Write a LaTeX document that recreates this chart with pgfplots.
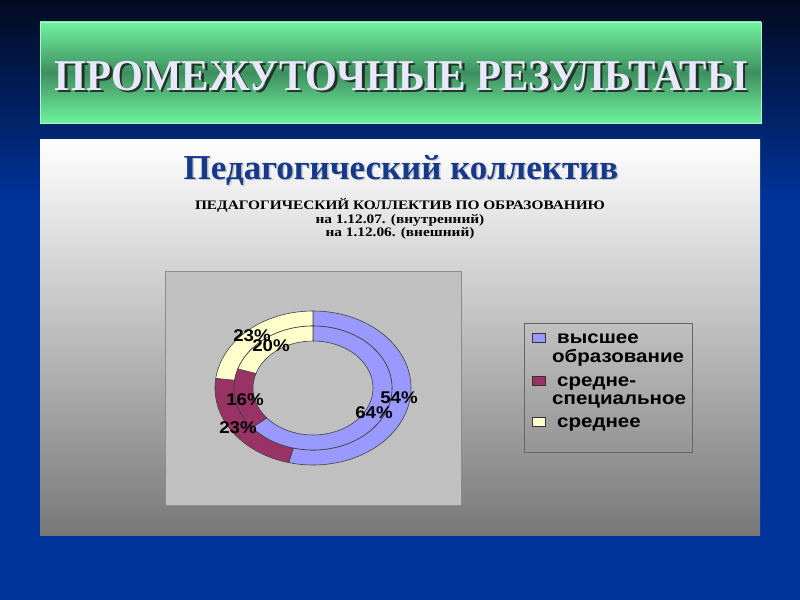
\documentclass[border=0pt]{standalone}
\usepackage{fontspec}
\setmainfont{Liberation Serif}
\newfontfamily\arial{Liberation Sans}
\usepackage{graphicx}
\usepackage{pgfplots}
\usepackage{pgfplotstable}
\pgfplotsset{compat=1.18}
\definecolor{bgdark}{HTML}{020A20}
\definecolor{bgblue}{HTML}{003399}
\definecolor{glight}{HTML}{70F29E}
\definecolor{gmid}{HTML}{3F8F60}
\definecolor{titlecol}{HTML}{E8E8FA}
\definecolor{subblue}{HTML}{17398C}
\definecolor{panelbot}{HTML}{787878}
\definecolor{plotgray}{HTML}{C0C0C0}
\definecolor{cblue}{HTML}{9999FF}
\definecolor{cmaroon}{HTML}{993366}
\definecolor{cyellow}{HTML}{FFFFCC}

% ring values: outer ring = 1.12.06 (external), inner ring = 1.12.07 (internal)
\pgfplotstableread{
cat outer inner
vysshee 54 64
srspec 23 16
srednee 23 20
}\donutdata
\pgfplotstablegetelem{0}{outer}\of\donutdata \let\oA\pgfplotsretval
\pgfplotstablegetelem{1}{outer}\of\donutdata \let\oB\pgfplotsretval
\pgfplotstablegetelem{2}{outer}\of\donutdata \let\oC\pgfplotsretval
\pgfplotstablegetelem{0}{inner}\of\donutdata \let\iA\pgfplotsretval
\pgfplotstablegetelem{1}{inner}\of\donutdata \let\iB\pgfplotsretval
\pgfplotstablegetelem{2}{inner}\of\donutdata \let\iC\pgfplotsretval
\pgfmathsetmacro\oT{90}
\pgfmathsetmacro\oTa{90-3.6*\oA}
\pgfmathsetmacro\oTb{90-3.6*(\oA+\oB)}
\pgfmathsetmacro\oTc{90-3.6*(\oA+\oB+\oC)}
\pgfmathsetmacro\iTa{90-3.6*\iA}
\pgfmathsetmacro\iTb{90-3.6*(\iA+\iB)}
\pgfmathsetmacro\iTc{90-3.6*(\iA+\iB+\iC)}
% #1 start angle, #2 end angle, #3 #4 outer radii, #5 #6 inner radii, #7 colour
\newcommand\ring[7]{%
  \filldraw[fill=#7,draw=black!75,line width=0.6pt]
    (axis cs:{313+#3*cos(#1)},{388-#4*sin(#1)})
    arc[start angle=#1,end angle=#2,x radius=#3bp,y radius=#4bp]
    -- (axis cs:{313+#5*cos(#2)},{388-#6*sin(#2)})
    arc[start angle=#2,end angle=#1,x radius=#5bp,y radius=#6bp] -- cycle;}
\newcommand\ttl{\scalebox{0.93}[1]{ПРОМЕЖУТОЧНЫЕ РЕЗУЛЬТАТЫ}}
\begin{document}%
\begin{tikzpicture}
\begin{axis}[
  scale only axis, width=800bp, height=600bp,
  xmin=0, xmax=800, ymin=0, ymax=600, y dir=reverse,
  hide axis, clip=false]
% background
\fill[bgblue] (axis cs:0,0) rectangle (axis cs:800,600);
\shade[top color=bgdark, bottom color=bgblue] (axis cs:0,0) rectangle (axis cs:800,200);
% title bar
\shade[top color=glight, bottom color=glight, middle color=gmid] (axis cs:40,22) rectangle (axis cs:761,123);
\draw[glight!60!white, line width=0.8pt] (axis cs:40,22) rectangle (axis cs:761,123);
\node[font=\fontsize{44bp}{48bp}\selectfont\bfseries, text=black!90, opacity=0.8] at (axis cs:403.5,78.5) {\ttl};
\node[font=\fontsize{44bp}{48bp}\selectfont\bfseries, text=titlecol] at (axis cs:401,76) {\ttl};
% panel
\shade[top color=white, bottom color=panelbot] (axis cs:40,140) rectangle (axis cs:760,535);
\node[font=\fontsize{35bp}{38bp}\selectfont\bfseries, text=black!40, opacity=0.5] at (axis cs:402.5,171) {Педагогический коллектив};
\node[font=\fontsize{35bp}{38bp}\selectfont\bfseries, text=subblue] at (axis cs:401,170) {Педагогический коллектив};
\node[font=\fontsize{13bp}{13.8bp}\selectfont\bfseries, align=center, text=black] at (axis cs:400,219)
  {\scalebox{1.18}[1]{ПЕДАГОГИЧЕСКИЙ КОЛЛЕКТИВ ПО ОБРАЗОВАНИЮ}\\ \scalebox{1.18}[1]{на 1.12.07. (внутренний)}\\ \scalebox{1.18}[1]{на 1.12.06. (внешний)}};
% plot area
\filldraw[fill=plotgray, draw=gray!90] (axis cs:165,271) rectangle (axis cs:461,505);
% outer ring (1.12.06)
\ring{\oT}{\oTa}{98}{77}{79}{62}{cblue}
\ring{\oTa}{\oTb}{98}{77}{79}{62}{cmaroon}
\ring{\oTb}{\oTc}{98}{77}{79}{62}{cyellow}
% inner ring (1.12.07)
\ring{\oT}{\iTa}{79}{62}{60}{47}{cblue}
\ring{\iTa}{\iTb}{79}{62}{60}{47}{cmaroon}
\ring{\iTb}{\iTc}{79}{62}{60}{47}{cyellow}
% data labels
\begin{scope}[every node/.style={font=\arial\fontsize{17bp}{18bp}\selectfont\bfseries, text=black, inner sep=0pt}]
\node at (axis cs:399,398) {\scalebox{1.1}[1]{\oA\%}};
\node at (axis cs:238,428) {\scalebox{1.1}[1]{\oB\%}};
\node at (axis cs:252,336) {\scalebox{1.1}[1]{\oC\%}};
\node at (axis cs:374,413) {\scalebox{1.1}[1]{\iA\%}};
\node at (axis cs:245,400) {\scalebox{1.1}[1]{\iB\%}};
\node at (axis cs:271,346) {\scalebox{1.1}[1]{\iC\%}};
\end{scope}
% legend
\draw[black!60, line width=0.8pt] (axis cs:524,323) rectangle (axis cs:692,452);
\filldraw[fill=cblue, draw=black!80] (axis cs:532,333) rectangle (axis cs:545,342);
\filldraw[fill=cmaroon, draw=black!80] (axis cs:532,376) rectangle (axis cs:545,385);
\filldraw[fill=cyellow, draw=black!80] (axis cs:532,417) rectangle (axis cs:545,426);
\begin{scope}[every node/.style={font=\arial\fontsize{18bp}{19bp}\selectfont\bfseries, text=black, inner sep=0pt, anchor=base west}]
\node at (axis cs:557,343) {\scalebox{1.14}[1]{высшее}};
\node at (axis cs:552,362) {\scalebox{1.14}[1]{образование}};
\node at (axis cs:557,386) {\scalebox{1.14}[1]{средне-}};
\node at (axis cs:552,404) {\scalebox{1.14}[1]{специальное}};
\node at (axis cs:557,427) {\scalebox{1.14}[1]{среднее}};
\end{scope}
\end{axis}
\end{tikzpicture}%
\end{document}
